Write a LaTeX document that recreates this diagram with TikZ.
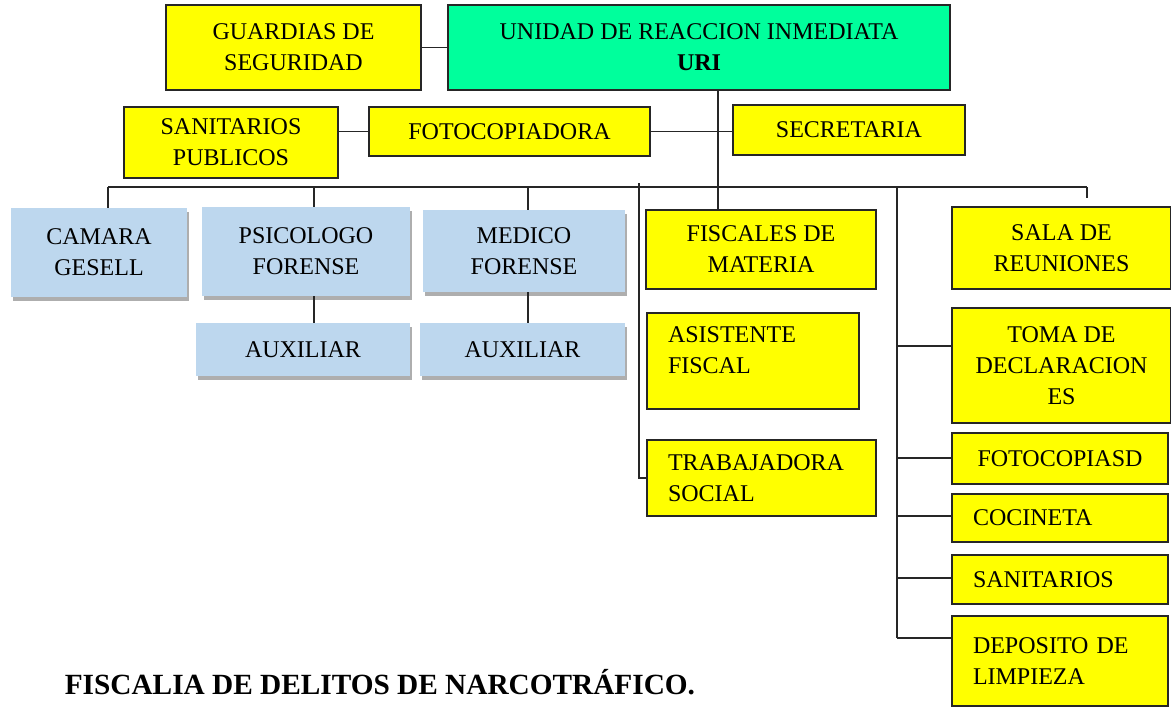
\documentclass[tikz,border=0pt]{standalone}
\usepackage{fontspec}
\setmainfont{Liberation Serif}
\usetikzlibrary{positioning, shadows}
\definecolor{amar}{HTML}{FFFF00}
\definecolor{verde}{HTML}{00FF9C}
\definecolor{celeste}{HTML}{BDD7EE}

\begin{document}
\begin{tikzpicture}[x=1pt, y=-1pt, font=\fontsize{24}{31}\selectfont,
  yb/.style={draw=black!85, line width=1.5pt, fill=amar, align=center, inner sep=0pt},
  gb/.style={yb, fill=verde},
  bb/.style={fill=celeste, align=center, inner sep=0pt,
    drop shadow={shadow xshift=1.5pt, shadow yshift=-3.5pt, opacity=.45, fill=black!70}},
  lft/.style={align=left, inner xsep=21pt},
  ln/.style={line width=1.6pt, black!85}
]
  \useasboundingbox (0,0) rectangle (1171,707);
  % top row
  \node[yb, minimum width=255pt, minimum height=85pt] (guard) at (293.5,47.5) {GUARDIAS DE\\SEGURIDAD};
  \node[gb, minimum width=502pt, minimum height=85pt] (uri) at (699,47.5) {UNIDAD DE REACCION INMEDIATA\\\textbf{URI}};
  \node[yb, minimum width=214pt, minimum height=71pt] (sanpub) at (231,142.5) {SANITARIOS\\PUBLICOS};
  \node[yb, minimum width=281pt, minimum height=49pt] (fotoc) at (509.5,131.5) {FOTOCOPIADORA};
  \node[yb, minimum width=232pt, minimum height=50pt] (secr) at (849,130) {SECRETARIA};
  % blue boxes
  \node[bb, minimum width=176pt, minimum height=89pt] (camara) at (99,252.5) {CAMARA\\GESELL};
  \node[bb, minimum width=208pt, minimum height=89pt] (psico) at (306,251.5) {PSICOLOGO\\FORENSE};
  \node[bb, minimum width=202pt, minimum height=82pt] (medico) at (524,251) {MEDICO\\FORENSE};
  \node[bb, minimum width=214pt, minimum height=53pt] (aux1) at (303,349.5) {AUXILIAR};
  \node[bb, minimum width=205pt, minimum height=53pt] (aux2) at (522.5,349.5) {AUXILIAR};
  % fiscales column
  \node[yb, lft, text width=170pt, minimum height=96pt, text depth=52pt] (asist) at (753,361) {ASISTENTE\\FISCAL};
  \node[yb, minimum width=230pt, minimum height=79pt] (fisc) at (761,249.5) {FISCALES DE\\MATERIA};
  \node[yb, lft, text width=187pt, minimum height=76pt] (trab) at (761.5,478) {TRABAJADORA\\SOCIAL};
  % right column
  \node[yb, minimum width=219pt, minimum height=82pt] (sala) at (1061.5,248) {SALA DE\\REUNIONES};
  \node[yb, minimum width=219pt, minimum height=115pt] (toma) at (1061.5,365.5) {TOMA DE\\DECLARACION\\ES};
  \node[yb, minimum width=216pt, minimum height=51pt] (fotcd) at (1060,458.5) {FOTOCOPIASD};
  \node[yb, lft, text width=174pt, minimum height=48pt] (cocin) at (1060,518) {COCINETA};
  \node[yb, lft, text width=174pt, minimum height=49pt] (sanit) at (1060,579.5) {SANITARIOS};
  \node[yb, lft, text width=174pt, minimum height=90pt] (depos) at (1060,661) {DEPOSITO DE\\LIMPIEZA};
  \node[font=\fontsize{29.3}{34}\selectfont\bfseries] (titulo) at (380,682) {FISCALIA DE DELITOS DE NARCOTR\'AFICO.};
  % connectors
  \draw[ln] (guard.east) -- (uri.west);
  \draw[ln] (fotoc.west) -- (fotoc.west -| sanpub.east);
  \draw[ln] (fotoc.east) -- (fotoc.east -| secr.west);
  \draw[ln] (uri.south -| 718,0) -- (718,0 |- fisc.north);
  \draw[ln] (108,187) -- (1087,187);
  \foreach \x/\n in {108/camara, 314/psico, 528/medico}
    \draw[ln] (\x,187) -- (\x,0 |- \n.north);
  \draw[ln] (psico.south -| 314,0) -- (314,0 |- aux1.north);
  \draw[ln] (medico.south -| 528,0) -- (528,0 |- aux2.north);
  \draw[ln] (639,183) |- (trab.west);
  \draw[ln] (1087,187) -- (1087,198);
  \draw[ln] (897,187) -- (897,638);
  \foreach \y/\n in {346/toma, 458/fotcd, 516/cocin, 578/sanit, 638/depos}
    \draw[ln] (897,\y) -- (\n.west |- 897,\y);
\end{tikzpicture}
\end{document}
